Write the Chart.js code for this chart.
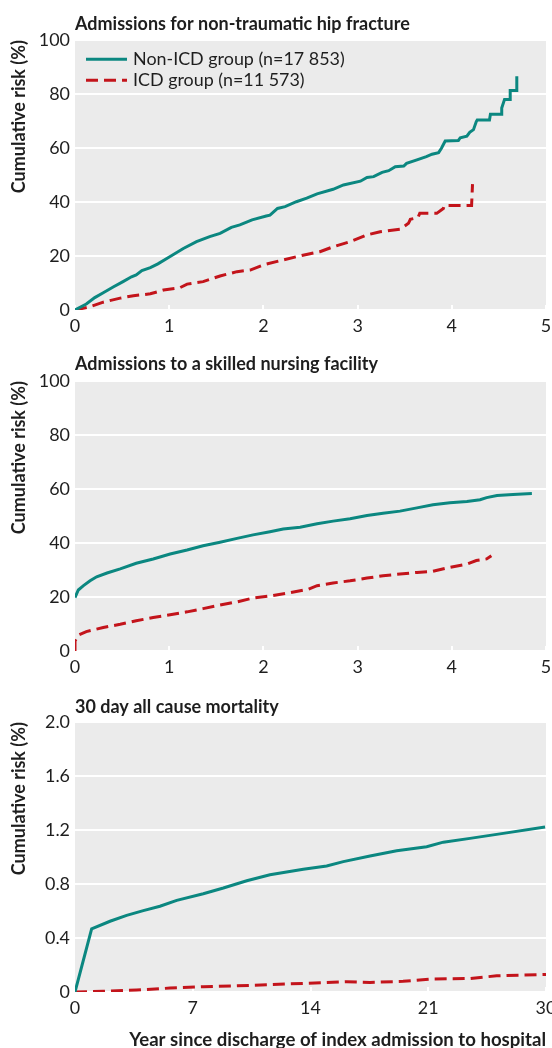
<!DOCTYPE html>
<html>
<head>
<meta charset="utf-8">
<script src="https://cdn.jsdelivr.net/npm/chart.js@4/dist/chart.umd.min.js"></script>
<style>
  html, body { margin: 0; padding: 0; background: #fff; }
  #wrap { position: relative; width: 552px; height: 1048px; overflow: hidden; }
  .panel { position: absolute; left: 0; width: 552px; }
  canvas { display: block; }
</style>
</head>
<body>
<div id="wrap">
  <div class="panel" style="top:0px;height:341px"><canvas id="c1" width="552" height="341"></canvas></div>
  <div class="panel" style="top:341px;height:341px"><canvas id="c2" width="552" height="341"></canvas></div>
  <div class="panel" style="top:682px;height:366px"><canvas id="c3" width="552" height="366"></canvas></div>
</div>
<script>
// ---------------- data ----------------
const panelTitles = [
  'Admissions for non-traumatic hip fracture',
  'Admissions to a skilled nursing facility',
  '30 day all cause mortality'
];
const seriesLabels = ['Non-ICD group (n=17 853)', 'ICD group (n=11 573)'];
const yAxisTitle = 'Cumulative risk (%)';
const xAxisTitle = 'Year since discharge of index admission to hospital';
const mortalityRiskTicks = ['0', '0.4', '0.8', '1.2', '1.6', '2.0'];
const mortalityDayTicks = ['0', '7', '14', '21', '30'];

// Hip fracture (years, %)
const hipNonIcdYears = [0, 0.12, 0.21, 0.30, 0.41, 0.51, 0.60, 0.65, 0.71, 0.80, 0.88, 1.01, 1.15, 1.29, 1.43, 1.54, 1.66, 1.75, 1.88, 2.03, 2.07, 2.15, 2.23, 2.35, 2.46, 2.57, 2.74, 2.85, 3.03, 3.10, 3.17, 3.26, 3.33, 3.40, 3.49, 3.52, 3.63, 3.73, 3.79, 3.86, 3.89, 3.93, 4.07, 4.09, 4.16, 4.19, 4.23, 4.26, 4.27, 4.40, 4.41, 4.53, 4.53, 4.56, 4.62, 4.62, 4.69, 4.69];
const hipNonIcdRisk  = [0, 2.2, 4.6, 6.4, 8.6, 10.5, 12.3, 13.0, 14.6, 15.7, 17.1, 19.8, 22.8, 25.3, 27.2, 28.4, 30.6, 31.5, 33.4, 34.8, 35.1, 37.6, 38.3, 40.1, 41.4, 43.0, 44.7, 46.3, 47.7, 49.1, 49.4, 51.0, 51.6, 53.1, 53.3, 54.3, 55.6, 56.8, 57.7, 58.3, 59.9, 62.6, 62.8, 63.8, 64.4, 65.8, 66.8, 69.8, 70.4, 70.4, 72.5, 72.5, 74.8, 78.0, 78.0, 81.3, 81.3, 86.6];
const hipIcdYears = [0, 0.16, 0.30, 0.48, 0.62, 0.80, 0.94, 1.11, 1.19, 1.36, 1.54, 1.72, 1.86, 2.00, 2.18, 2.42, 2.60, 2.74, 2.92, 3.10, 3.24, 3.45, 3.54, 3.56, 3.64, 3.66, 3.84, 3.91, 3.92, 4.21, 4.22];
const hipIcdRisk  = [0, 1.2, 2.9, 4.4, 5.3, 6.0, 7.4, 8.2, 9.6, 10.5, 12.6, 14.2, 14.8, 16.7, 18.3, 20.3, 21.6, 23.4, 25.3, 27.8, 29.0, 29.9, 32.1, 33.6, 34.2, 35.8, 35.8, 37.6, 38.7, 38.7, 46.6];

// Skilled nursing facility (years, %)
const snfNonIcdYears = [0, 0.035, 0.09, 0.16, 0.23, 0.34, 0.48, 0.65, 0.83, 1.01, 1.19, 1.36, 1.54, 1.72, 1.89, 2.07, 2.21, 2.39, 2.57, 2.74, 2.92, 3.10, 3.27, 3.45, 3.63, 3.80, 3.98, 4.16, 4.30, 4.37, 4.48, 4.65, 4.85];
const snfNonIcdRisk  = [19.8, 22.6, 24.2, 26.0, 27.5, 28.9, 30.4, 32.5, 34.1, 35.9, 37.4, 39.0, 40.3, 41.7, 43.0, 44.2, 45.2, 45.8, 47.1, 48.1, 49.0, 50.2, 51.0, 51.8, 53.0, 54.2, 54.9, 55.4, 56.0, 56.8, 57.6, 58.0, 58.3];
const snfIcdYears = [0, 0, 0.035, 0.12, 0.30, 0.48, 0.65, 0.83, 1.01, 1.19, 1.36, 1.54, 1.72, 1.89, 2.07, 2.25, 2.48, 2.57, 2.74, 2.92, 3.10, 3.27, 3.45, 3.63, 3.80, 3.98, 4.16, 4.26, 4.37, 4.42];
const snfIcdRisk  = [0, 3.7, 5.9, 7.2, 8.7, 9.9, 11.2, 12.4, 13.4, 14.5, 15.7, 17.0, 18.2, 19.6, 20.4, 21.4, 22.9, 24.2, 25.2, 26.0, 27.0, 27.9, 28.5, 29.1, 29.5, 31.0, 32.2, 33.5, 34.1, 35.3];

// 30 day mortality (days, %)
const mortNonIcdDays = [0, 1.06, 2.23, 3.29, 4.35, 5.41, 6.48, 8.17, 9.45, 10.94, 12.42, 14.54, 16.03, 17.09, 18.79, 20.49, 22.40, 23.46, 25.16, 27.28, 29.94];
const mortNonIcdRisk = [0, 0.468, 0.524, 0.568, 0.603, 0.635, 0.679, 0.728, 0.770, 0.824, 0.868, 0.910, 0.934, 0.966, 1.007, 1.046, 1.076, 1.110, 1.138, 1.175, 1.223];
const mortIcdDays = [0, 1.8, 3.93, 6.05, 8.17, 10.3, 12.42, 14.54, 17.3, 18.79, 20.9, 22.6, 25.16, 26.86, 30];
const mortIcdRisk = [0, 0.005, 0.015, 0.029, 0.039, 0.046, 0.054, 0.064, 0.076, 0.071, 0.079, 0.096, 0.100, 0.120, 0.130];

// ---------------- styling ----------------
const FAMILY = 'Lato, "Noto Sans", "DejaVu Sans", sans-serif';
const TEAL = '#0b8780';
const RED = '#c3141b';
const TEXT = '#1e1e1e';
const PLOT_BG = '#ebebeb';
const PLOT_TOP = 40, PLOT_BOTTOM = 310, PLOT_LEFT = 75, RIGHT_PAD = 6;

function fitSize(text, weight, target) {
  const c = document.createElement('canvas').getContext('2d');
  c.font = weight + ' 100px ' + FAMILY;
  return Math.round(1000 * target / c.measureText(text).width) / 10;
}
const BOLD = fitSize(panelTitles[0], 'bold', 335);
const REG = fitSize(seriesLabels[0], 'normal', 212);
const XTITLE = Math.round(BOLD * 10.35) / 10;

function pts(xs, ys) { return xs.map((x, i) => ({ x: x, y: ys[i] })); }

const plotBg = {
  id: 'plotBg',
  beforeDraw(chart) {
    const { ctx, chartArea: a } = chart;
    ctx.save();
    ctx.fillStyle = PLOT_BG;
    ctx.fillRect(a.left, a.top, a.right - a.left, a.bottom - a.top);
    ctx.restore();
  }
};

const insideLegend = {
  id: 'insideLegend',
  afterDatasetsDraw(chart, args, opts) {
    if (!opts || !opts.show) return;
    const { ctx, chartArea } = chart;
    ctx.save();
    chart.data.datasets.forEach((ds, i) => {
      const y = chartArea.top + opts.top + i * opts.rowGap;
      const x0 = chartArea.left + opts.left;
      ctx.strokeStyle = ds.borderColor;
      ctx.lineWidth = ds.borderWidth;
      ctx.lineCap = 'butt';
      ctx.setLineDash(ds.borderDash || []);
      ctx.beginPath();
      ctx.moveTo(x0, y);
      ctx.lineTo(x0 + opts.lineLen, y);
      ctx.stroke();
      ctx.setLineDash([]);
      ctx.fillStyle = TEXT;
      ctx.font = 'normal ' + REG + 'px ' + FAMILY;
      ctx.textBaseline = 'middle';
      ctx.textAlign = 'left';
      ctx.fillText(ds.label, x0 + opts.lineLen + opts.gap, y);
    });
    ctx.restore();
  }
};

function makePanel(id, o) {
  const canvas = document.getElementById(id);
  const H = canvas.height;
  const padTop = o.titleBaseline - 0.387 * BOLD - 0.6 * BOLD;
  const padBottom = PLOT_TOP - padTop - 1.2 * BOLD;
  const xScale = {
    type: 'linear',
    min: o.xMin, max: o.xMax,
    border: { display: false },
    grid: { drawOnChartArea: false, drawTicks: true, tickLength: -5, color: '#ffffff', lineWidth: 2 },
    ticks: {
      color: TEXT, font: { family: FAMILY, size: REG }, padding: 10, maxRotation: 0, autoSkip: false,
      stepSize: o.xStep,
      callback: o.xLabel
    },
    afterBuildTicks: o.xTicks,
    title: o.xTitle ? {
      display: true, text: o.xTitle, align: 'end', color: TEXT,
      font: { family: FAMILY, size: XTITLE, weight: 'bold' },
      padding: { top: 0, bottom: -3.5 }
    } : { display: false },
    afterFit(s) { s.height = H - PLOT_BOTTOM; s.paddingLeft = 0; s.paddingRight = 0; }
  };
  const yScale = {
    min: 0, max: o.yMax,
    border: { display: false },
    grid: { color: '#ffffff', lineWidth: 2, drawTicks: false },
    ticks: { color: TEXT, font: { family: FAMILY, size: REG }, padding: 5, stepSize: o.yStep, callback: o.yLabel },
    title: {
      display: true, text: yAxisTitle, align: 'end', color: TEXT,
      font: { family: FAMILY, size: BOLD, weight: 'bold' },
      padding: { top: 19 - 0.6 * BOLD, bottom: 0 }
    },
    afterFit(s) { s.width = PLOT_LEFT; }
  };
  return new Chart(canvas, {
    type: 'line',
    data: {
      datasets: [
        { label: seriesLabels[0], data: o.a, borderColor: TEAL, borderWidth: 3, pointRadius: 0, tension: 0, fill: false },
        { label: seriesLabels[1], data: o.b, borderColor: RED, borderWidth: 3, borderDash: [12, 6], pointRadius: 0, tension: 0, fill: false }
      ]
    },
    options: {
      responsive: false,
      animation: false,
      events: [],
      layout: { padding: { left: 0, right: RIGHT_PAD, top: 0, bottom: 0 } },
      scales: { x: xScale, y: yScale },
      plugins: {
        legend: { display: false },
        tooltip: { enabled: false },
        title: {
          display: true, text: o.title, align: 'start', fullSize: false, color: TEXT,
          font: { family: FAMILY, size: BOLD, weight: 'bold', lineHeight: 1.2 },
          padding: { top: padTop, bottom: padBottom }
        },
        insideLegend: o.legend ? { show: true, left: 11, top: 19.3, rowGap: 21, lineLen: 41, gap: 6 } : { show: false }
      }
    },
    plugins: [plotBg, insideLegend]
  });
}

makePanel('c1', {
  title: panelTitles[0], titleBaseline: 31,
  a: pts(hipNonIcdYears, hipNonIcdRisk), b: pts(hipIcdYears, hipIcdRisk),
  xMin: 0, xMax: 5, xStep: 1, yMax: 100, yStep: 20, legend: true
});
makePanel('c2', {
  title: panelTitles[1], titleBaseline: 30.5,
  a: pts(snfNonIcdYears, snfNonIcdRisk), b: pts(snfIcdYears, snfIcdRisk),
  xMin: 0, xMax: 5, xStep: 1, yMax: 100, yStep: 20, legend: false
});
makePanel('c3', {
  title: panelTitles[2], titleBaseline: 32,
  a: pts(mortNonIcdDays, mortNonIcdRisk), b: pts(mortIcdDays, mortIcdRisk),
  xMin: 0, xMax: 30, yMax: 2, yStep: 0.4, legend: false,
  yLabel: (v, i) => mortalityRiskTicks[i],
  xTicks: (s) => { s.ticks = mortalityDayTicks.map((_, i) => ({ value: i * 30 / (mortalityDayTicks.length - 1) })); },
  xLabel: (v, i) => mortalityDayTicks[i],
  xTitle: xAxisTitle
});
</script>
</body>
</html>
